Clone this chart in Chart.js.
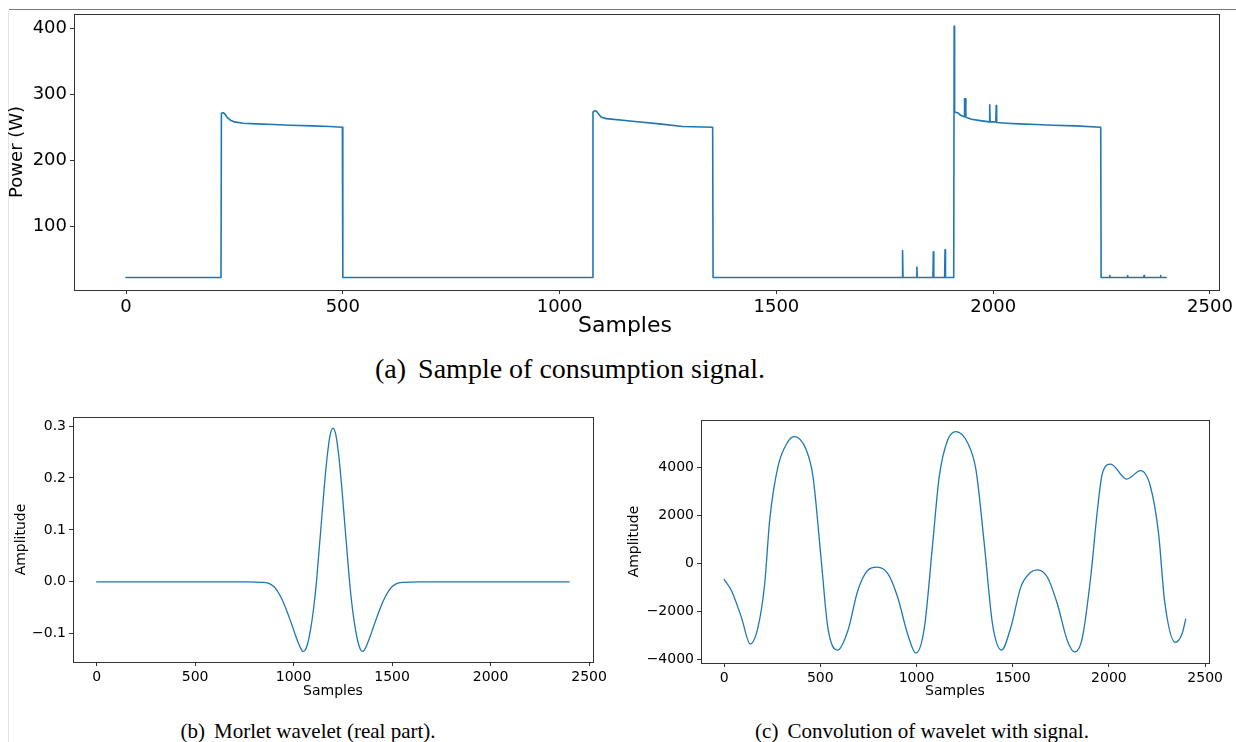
<!DOCTYPE html>
<html>
<head>
<meta charset="utf-8">
<script src="https://cdn.jsdelivr.net/npm/chart.js@4.4.1/dist/chart.umd.min.js"></script>
<style>
  html, body { margin: 0; padding: 0; background: #fff; }
  body { width: 1236px; height: 742px; position: relative; overflow: hidden; }
  .page-rule { position: absolute; left: 9px; top: 9px; width: 1227px; height: 1px; background: #7a7a7a; }
  .page-edge { position: absolute; left: 8px; top: 10px; width: 1px; height: 732px; background: #e4e4e4; }
  canvas { position: absolute; }
  .caption {
    position: absolute;
    font-family: "Liberation Serif", "Times New Roman", serif;
    font-size: 21px;
    color: #000;
    white-space: nowrap;
    transform: translateX(-50%);
  }
  .caption .tag { margin-right: 9px; }
  .caption.big { font-size: 28px; }
  .caption.big .tag { margin-right: 12px; }
  .axis-title {
    position: absolute;
    font-family: "DejaVu Sans", sans-serif;
    font-size: 22px;
    color: #000;
    white-space: nowrap;
    transform: translateX(-50%);
  }
</style>
</head>
<body>
<div class="page-rule"></div>
<div class="page-edge"></div>

<canvas id="powerChart" width="1236" height="345" style="left:0;top:0"></canvas>
<div class="axis-title" style="left:625px;top:312px">Samples</div>
<div class="caption big" style="left:570px;top:353px"><span class="tag">(a)</span>Sample of consumption signal.</div>

<canvas id="waveletChart" width="610" height="330" style="left:0;top:380px"></canvas>
<canvas id="convChart" width="616" height="330" style="left:620px;top:380px"></canvas>
<div class="caption" style="left:308px;top:719px"><span class="tag">(b)</span>Morlet wavelet (real part).</div>
<div class="caption" style="left:922px;top:719px"><span class="tag">(c)</span>Convolution of wavelet with signal.</div>

<script>
// (a) consumption signal, vertices
const powerSamples = [
    0, 219, 220, 224, 228, 233, 240, 250, 270, 300, 340, 380, 430, 470, 499, 500,
    1076, 1077, 1081, 1085, 1090, 1096, 1108, 1168, 1230, 1284, 1353, 1354,
    1790, 1791, 1792, 1823, 1824, 1825, 1861, 1862, 1863, 1888, 1889, 1890,
    1909, 1910, 1911, 1918, 1925, 1933, 1934, 1936, 1937, 1950, 1970, 1991, 1992, 1993,
    2006, 2007, 2008, 2030, 2060, 2100, 2137, 2190, 2248, 2249,
    2268, 2269, 2270, 2309, 2310, 2311, 2347, 2348, 2349, 2385, 2386, 2387, 2399
];
const powerWatts = [
    22, 22, 271, 272, 270, 265, 261, 258, 256, 255, 254, 253, 252, 251, 250, 22,
    22, 273, 275, 274, 270, 265, 263, 259, 255, 251, 250, 22,
    22, 63, 22, 22, 38, 22, 22, 61, 22, 22, 64, 22,
    22, 403, 273, 272, 268, 266, 293, 293, 265, 262, 260, 258, 284, 258,
    258, 283, 257, 256, 255, 254, 253, 252, 250, 22,
    22, 25, 22, 22, 25, 22, 22, 25, 22, 22, 25, 22, 22
];

// (b) Morlet wavelet, real part
const waveletSamples = [
    0, 760, 840, 880, 911, 945, 978, 995, 1012, 1025, 1040, 1050, 1060, 1074, 1089, 1102,
    1116, 1128, 1140, 1155, 1170, 1185, 1200, 1215, 1230, 1245, 1260, 1272, 1284,
    1298, 1311, 1326, 1340, 1350, 1360, 1375, 1388, 1405, 1422, 1455, 1489, 1520, 1560, 1640, 2399
];
const waveletAmp = [
    0, 0, -0.001, -0.004, -0.014, -0.037, -0.069, -0.087, -0.106, -0.119, -0.131, -0.134, -0.131, -0.115, -0.085, -0.05,
    0, 0.055, 0.11, 0.18, 0.24, 0.282, 0.296, 0.282, 0.24, 0.18, 0.11, 0.055, 0,
    -0.05, -0.085, -0.115, -0.131, -0.134, -0.131, -0.119, -0.106, -0.087, -0.069, -0.037, -0.014, -0.004, -0.001, 0, 0
];

// (c) convolution of wavelet with signal
const convSamples = [
    0, 38, 90, 136, 176, 211, 237, 280, 332, 365, 427, 462, 505, 539, 591, 643, 695, 747, 795,
    851, 902, 954, 997, 1041, 1084, 1118, 1162, 1205, 1266, 1309, 1352, 1395, 1442, 1490,
    1542, 1594, 1629, 1680, 1732, 1784, 1822, 1862, 1905, 1940, 1966, 2009, 2092, 2165,
    2216, 2258, 2289, 2345, 2382, 2399
];
const convAmp = [
    -680, -1140, -2260, -3370, -2680, -860, 1790, 4020, 5060, 5270, 4720, 3600, 110, -2680, -3620, -2820, -1140, -300, -170,
    -440, -1420, -2960, -3750, -2680, 810, 3600, 5130, 5480, 5000, 3880, 810, -2540, -3620, -2680,
    -1000, -380, -280, -590, -1700, -3230, -3700, -3100, -590, 2200, 3740, 4120, 3500, 3850,
    3180, 1230, -1560, -3300, -2900, -2330
];

const sampleTicks = [0, 500, 1000, 1500, 2000, 2500];
const powerTicks = [100, 200, 300, 400];
const waveletTicks = [-0.1, 0, 0.1, 0.2, 0.3];
const convTicks = [-4000, -2000, 0, 2000, 4000];

const LINE_BLUE = '#1f77b4';
const SANS = "'DejaVu Sans', 'Liberation Sans', sans-serif";
const minus = s => String(s).replace('-', '\u2212');

// matplotlib-like box around the plot area
const framePlugin = {
    id: 'frame',
    afterDatasetsDraw(chart) {
        const { ctx, chartArea: a } = chart;
        ctx.save();
        ctx.strokeStyle = '#333';
        ctx.lineWidth = 1;
        ctx.strokeRect(Math.round(a.left) + 0.5, Math.round(a.top) + 0.5,
            Math.round(a.right - a.left), Math.round(a.bottom - a.top));
        ctx.restore();
    }
};

function axis({ min, max, ticks, format, title, size, titlePad, width, height }) {
    return {
        type: 'linear',
        min: min,
        max: max,
        afterBuildTicks: scale => { scale.ticks = ticks.map(v => ({ value: v })); },
        afterFit: scale => {
            if (width) scale.width = width;
            if (height) scale.height = height;
        },
        grid: { display: true, drawOnChartArea: false, drawTicks: true, tickLength: 4, color: '#333', tickColor: '#333' },
        border: { display: false },
        ticks: {
            autoSkip: false,
            maxRotation: 0,
            padding: 3,
            color: '#000',
            font: { family: SANS, size: size },
            callback: v => format(v)
        },
        title: {
            display: !!title,
            text: title || '',
            color: '#000',
            font: { family: SANS, size: size },
            padding: titlePad
        }
    };
}

function lineSet(xs, ys, width, smooth) {
    return {
        data: xs.map((x, i) => ({ x: x, y: ys[i] })),
        borderColor: LINE_BLUE,
        borderWidth: width,
        borderJoinStyle: 'round',
        borderCapStyle: 'round',
        pointRadius: 0,
        fill: false,
        tension: 0,
        cubicInterpolationMode: smooth ? 'monotone' : 'default'
    };
}

function createChart(id, dataset, padding, xAxis, yAxis) {
    const ctx = document.getElementById(id);
    if (!ctx) return null;
    return new Chart(ctx, {
        type: 'line',
        data: { datasets: [dataset] },
        options: {
            responsive: false,
            animation: false,
            devicePixelRatio: 1,
            layout: { padding: padding },
            plugins: { legend: { display: false }, tooltip: { enabled: false } },
            scales: { x: xAxis, y: yAxis }
        },
        plugins: [framePlugin]
    });
}

// x title of (a) sits off-centre in the original, so it is an html label above
createChart('powerChart',
    lineSet(powerSamples, powerWatts, 1.6, false),
    { left: 0, top: 12, right: 16, bottom: 0 },
    axis({ min: -120, max: 2520, ticks: sampleTicks, format: v => String(v), title: null,
        size: 18, titlePad: 0, height: 55 }),
    axis({ min: 3, max: 422, ticks: powerTicks, format: v => String(v), title: 'Power (W)',
        size: 18, titlePad: { top: 7, bottom: 0 }, width: 74 })
);

createChart('waveletChart',
    lineSet(waveletSamples, waveletAmp, 1.3, true),
    { left: 0, top: 37, right: 14, bottom: 0 },
    axis({ min: -120, max: 2520, ticks: sampleTicks, format: v => String(v), title: 'Samples',
        size: 14, titlePad: { top: 0, bottom: 10 }, height: 48 }),
    axis({ min: -0.1545, max: 0.3175, ticks: waveletTicks, format: v => minus(v.toFixed(1)), title: 'Amplitude',
        size: 14, titlePad: { top: 13, bottom: 0 }, width: 73 })
);

createChart('convChart',
    lineSet(convSamples, convAmp, 1.3, true),
    { left: 0, top: 40, right: 27, bottom: 0 },
    axis({ min: -120, max: 2520, ticks: sampleTicks, format: v => String(v), title: 'Samples',
        size: 14, titlePad: { top: 0, bottom: 10 }, height: 47 }),
    axis({ min: -4160, max: 5960, ticks: convTicks, format: v => minus(v), title: 'Amplitude',
        size: 14, titlePad: { top: 6, bottom: 0 }, width: 81 })
);
</script>
</body>
</html>
